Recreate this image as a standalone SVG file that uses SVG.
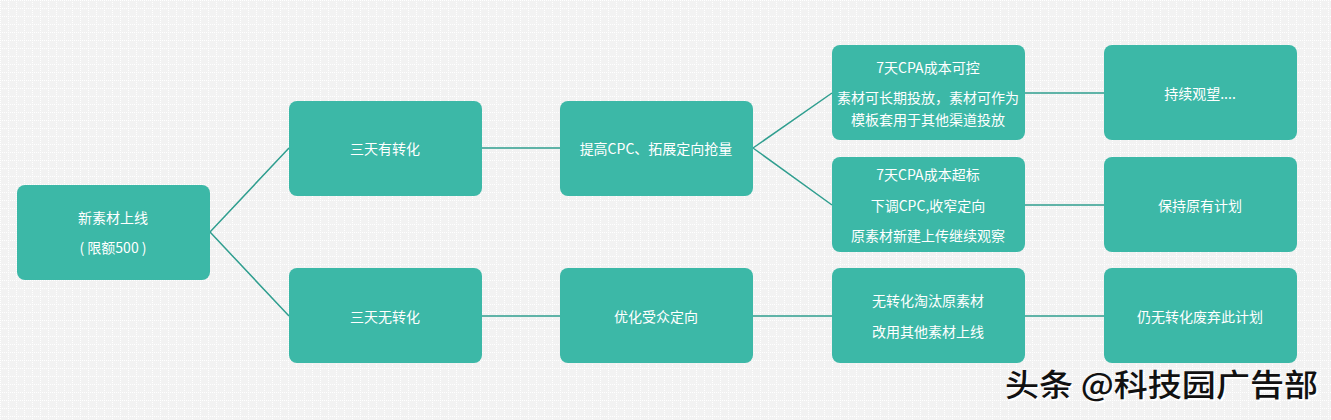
<svg xmlns="http://www.w3.org/2000/svg" width="1331" height="420" viewBox="0 0 1331 420">
<style>
.n{fill:#3cb8a7}
.t{font-family:"Noto Sans CJK SC","Microsoft YaHei",sans-serif;font-size:14px;fill:#ffffff;text-anchor:middle;dominant-baseline:central}
.c{stroke:#2f9e8f;stroke-width:1.5;fill:none}
.w{font-family:"Noto Sans CJK SC",sans-serif;font-size:31px;font-weight:500}
</style>
<defs>
<pattern id="g" width="8" height="8" patternUnits="userSpaceOnUse">
<rect width="8" height="8" fill="#f2f2f2"/>
<path d="M0 0.5H8M0.5 0V8" stroke="#ffffff" stroke-width="1" stroke-dasharray="1 1"/>
</pattern>
</defs>
<rect width="1331" height="420" fill="url(#g)"/>
<g id="connectors">
<path class="c" d="M210 232L289 148M210 232L289 316"/>
<path class="c" d="M482 148H560M482 316H560"/>
<path class="c" d="M753 148L832 93M753 148L832 205M753 316H832"/>
<path class="c" d="M1025 93H1104M1025 205H1104M1025 316H1104"/>
</g>
<g id="root"><rect class="n" x="17" y="185" width="193" height="95" rx="8"/><text class="t" x="113" y="217">新素材上线</text><text class="t" x="113" y="247">(  限额500  )</text></g>
<g id="n1a"><rect class="n" x="289" y="101" width="193" height="95" rx="8"/><text class="t" x="385" y="148">三天有转化</text></g>
<g id="n1b"><rect class="n" x="289" y="268" width="193" height="95" rx="8"/><text class="t" x="385" y="316">三天无转化</text></g>
<g id="n2a"><rect class="n" x="560" y="101" width="193" height="95" rx="8"/><text class="t" x="656" y="148">提高CPC、拓展定向抢量</text></g>
<g id="n2b"><rect class="n" x="560" y="268" width="193" height="95" rx="8"/><text class="t" x="656" y="316">优化受众定向</text></g>
<g id="n3a"><rect class="n" x="832" y="45" width="193" height="95" rx="8"/><text class="t" x="928" y="67">7天CPA成本可控</text><text class="t" x="928" y="97">素材可长期投放，素材可作为</text><text class="t" x="928" y="119">模板套用于其他渠道投放</text></g>
<g id="n3b"><rect class="n" x="832" y="157" width="193" height="95" rx="8"/><text class="t" x="928" y="174">7天CPA成本超标</text><text class="t" x="928" y="205">下调CPC,收窄定向</text><text class="t" x="928" y="235">原素材新建上传继续观察</text></g>
<g id="n3c"><rect class="n" x="832" y="268" width="193" height="95" rx="8"/><text class="t" x="928" y="300">无转化淘汰原素材</text><text class="t" x="928" y="331">改用其他素材上线</text></g>
<g id="n4a"><rect class="n" x="1104" y="45" width="193" height="95" rx="8"/><text class="t" x="1200" y="93">持续观望....</text></g>
<g id="n4b"><rect class="n" x="1104" y="157" width="193" height="95" rx="8"/><text class="t" x="1200" y="205">保持原有计划</text></g>
<g id="n4c"><rect class="n" x="1104" y="268" width="193" height="95" rx="8"/><text class="t" x="1200" y="316">仍无转化废弃此计划</text></g>
<g id="watermark">
<text class="w" x="1005" y="396" textLength="313" lengthAdjust="spacingAndGlyphs" fill="#ffffff" transform="translate(1.5 1.5)">头条 @科技园广告部</text>
<text class="w" x="1005" y="396" textLength="313" lengthAdjust="spacingAndGlyphs" fill="#111111">头条 @科技园广告部</text>
</g>
</svg>
